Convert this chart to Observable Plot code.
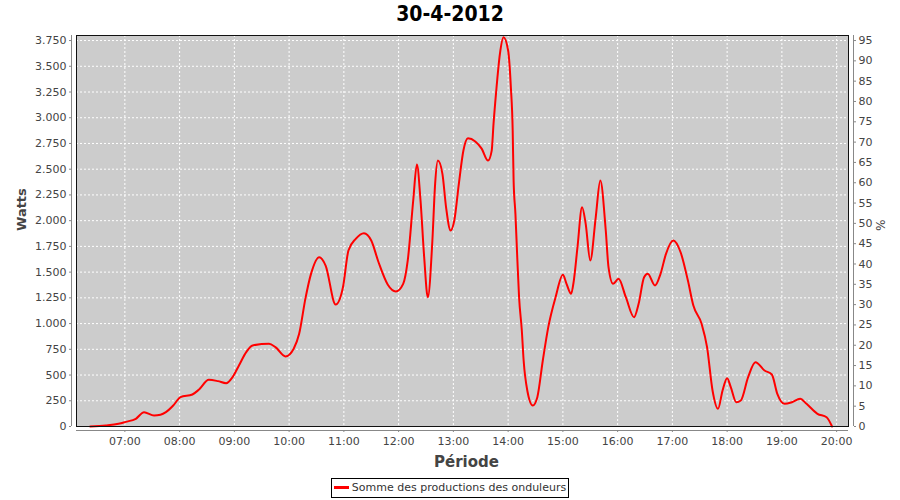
<!DOCTYPE html>
<html>
<head>
<meta charset="utf-8">
<script src="https://cdn.jsdelivr.net/npm/d3@7"></script>
<script src="https://cdn.jsdelivr.net/npm/@observablehq/plot@0.6"></script>
<style>
  html, body { margin: 0; padding: 0; background: #ffffff; width: 900px; height: 500px; overflow: hidden; }
  #title { height: 30px; line-height: 29px; text-align: center; font-family: "DejaVu Sans Condensed", "DejaVu Sans", sans-serif; font-weight: bold; font-size: 21px; color: #000; }
  #chart { height: 440px; }
  #legend { margin-top: 8px; text-align: center; font-family: "DejaVu Sans", sans-serif; font-size: 11px; color: #333; }
  #legend .box { display: inline-block; border: 1px solid #000; height: 18px; line-height: 18px; padding: 0 2px 0 2px; }
  #legend .sw { display: inline-block; width: 15px; height: 3px; background: #ff0000; vertical-align: middle; margin-right: 3px; position: relative; top: -1px; }
</style>
</head>
<body>
<div id="title"></div>
<div id="chart"></div>
<div id="legend"></div>
<script>
const chartTitle = "30-4-2012";
const seriesName = "Somme des productions des onduleurs";
const yLabel = "Watts";
const y2Label = "%";
const xLabel = "Période";

const times = ["06:22","06:39","06:53","07:01","07:12","07:21","07:32","07:39","07:45","07:53",
  "08:01","08:14","08:21","08:32","08:42","08:51","08:58","09:05","09:13","09:20",
  "09:38","09:45","09:56","10:05","10:11","10:18","10:24","10:33","10:40","10:51",
  "10:59","11:05","11:13","11:22","11:30","11:38","11:48","11:57","12:05","12:10",
  "12:16","12:20","12:24","12:28","12:32","12:37","12:40","12:43","12:48","12:52",
  "12:57","13:01","13:06","13:11","13:16","13:24","13:31","13:38","13:42","13:44",
  "13:47","13:51","13:55","14:00","14:03","14:05","14:06","14:08","14:10","14:12",
  "14:15","14:17","14:21","14:27","14:32","14:38","14:44","14:52","15:00","15:04",
  "15:09","15:12","15:16","15:21","15:25","15:30","15:36","15:41","15:47","15:50",
  "15:55","16:01","16:09","16:18","16:23","16:29","16:33","16:41","16:47","16:53",
  "17:01","17:09","17:17","17:23","17:32","17:38","17:44","17:50","17:55","18:00",
  "18:04","18:10","18:15","18:23","18:31","18:41","18:49","18:55","19:03","19:11",
  "19:20","19:27","19:39","19:49","19:55"];
const watts = [0,10,26,45,75,139,107,114,139,204,
  285,311,357,454,441,421,480,593,723,788,
  804,771,681,756,901,1250,1483,1645,1564,1185,
  1353,1710,1823,1878,1807,1596,1380,1312,1386,1613,
  2196,2545,2196,1645,1256,1807,2358,2584,2455,2130,
  1904,2001,2358,2681,2800,2770,2700,2584,2681,2941,
  3264,3621,3782,3653,3296,2876,2390,2066,1645,1256,
  933,641,350,204,285,641,965,1256,1474,1386,
  1289,1418,1742,2130,1969,1613,2033,2390,1904,1548,
  1386,1435,1256,1062,1192,1450,1483,1370,1483,1678,
  1807,1693,1418,1175,998,771,350,172,350,470,
  382,236,253,480,625,544,505,318,220,236,
  269,220,123,90,0];

const xExtent = ["06:07", "20:13"];
const yExtent = [0, 3799];
const hourTicks = ["07:00","08:00","09:00","10:00","11:00","12:00","13:00","14:00","15:00","16:00","17:00","18:00","19:00","20:00"];
const yTicks = [0,250,500,750,1000,1250,1500,1750,2000,2250,2500,2750,3000,3250,3500,3750];
const pctTicks = [0,5,10,15,20,25,30,35,40,45,50,55,60,65,70,75,80,85,90,95];
const pctRef = [95, 3750]; // 95 % corresponds to 3750 W

const parse = d3.utcParse("%Y-%m-%d %H:%M");
const toDate = t => parse("2012-04-30 " + t);
const data = times.map((t, i) => ({date: toDate(t), value: watts[i]}));
const xDomain = xExtent.map(toDate);
const hourDates = hourTicks.map(toDate);
const wPerPct = pctRef[1] / pctRef[0];

const locale = d3.formatLocale({decimal: ",", thousands: ".", grouping: [3], currency: ["", " €"]});
const fmtW = locale.format(",d");

document.getElementById("title").textContent = chartTitle;
document.getElementById("legend").innerHTML = `<span class="box"><span class="sw"></span>${seriesName}</span>`;

const axisColor = "#888888";
const textColor = "#444444";

const chart = Plot.plot({
  width: 900,
  height: 440,
  marginLeft: 76,
  marginRight: 52,
  marginTop: 5,
  marginBottom: 44,
  style: {fontFamily: "DejaVu Sans, sans-serif", fontSize: "11px", background: "#ffffff", overflow: "visible"},
  x: {type: "utc", domain: xDomain},
  y: {domain: yExtent},
  marks: [
    Plot.frame({fill: "#cccccc", stroke: null}),
    Plot.gridY(yTicks, {stroke: "#ffffff", strokeOpacity: 1, strokeDasharray: "2,2"}),
    Plot.gridX(hourDates, {stroke: "#ffffff", strokeOpacity: 1, strokeDasharray: "2,2"}),
    Plot.line(data, {x: "date", y: "value", stroke: "#ff0000", strokeWidth: 2, curve: "monotone-x"}),
    Plot.frame({stroke: "#111111", strokeWidth: 1}),
    Plot.ruleX([xDomain[0]], {stroke: axisColor, dx: -5}),
    Plot.ruleX([xDomain[1]], {stroke: axisColor, dx: 5}),
    Plot.ruleY([yExtent[0]], {stroke: axisColor, dy: 4}),
    Plot.axisY(yTicks, {anchor: "left", tickSize: 2, dx: -5, tickPadding: 3, tickFormat: fmtW, label: null, stroke: axisColor, fill: textColor, fontSize: 11}),
    Plot.axisY(pctTicks.map(p => p * wPerPct), {anchor: "right", tickSize: 2, dx: 5, tickPadding: 3, tickFormat: d => String(Math.round(d / wPerPct)), label: null, stroke: axisColor, fill: textColor, fontSize: 11}),
    Plot.axisX(hourDates, {anchor: "bottom", tickSize: 2, dy: 4, tickPadding: 5, tickFormat: d3.utcFormat("%H:%M"), label: null, stroke: axisColor, fill: textColor, fontSize: 11}),
    Plot.text([yLabel], {frameAnchor: "left", dx: -55, rotate: -90, fontSize: 13, fontWeight: "bold", fill: textColor}),
    Plot.text([y2Label], {frameAnchor: "right", dx: 31, rotate: 90, fontSize: 12, fill: textColor}),
    Plot.text([xLabel], {frameAnchor: "bottom", dx: 4, dy: 40, fontSize: 15, fontWeight: "bold", fill: textColor})
  ]
});
document.getElementById("chart").appendChild(chart);
</script>
</body>
</html>
